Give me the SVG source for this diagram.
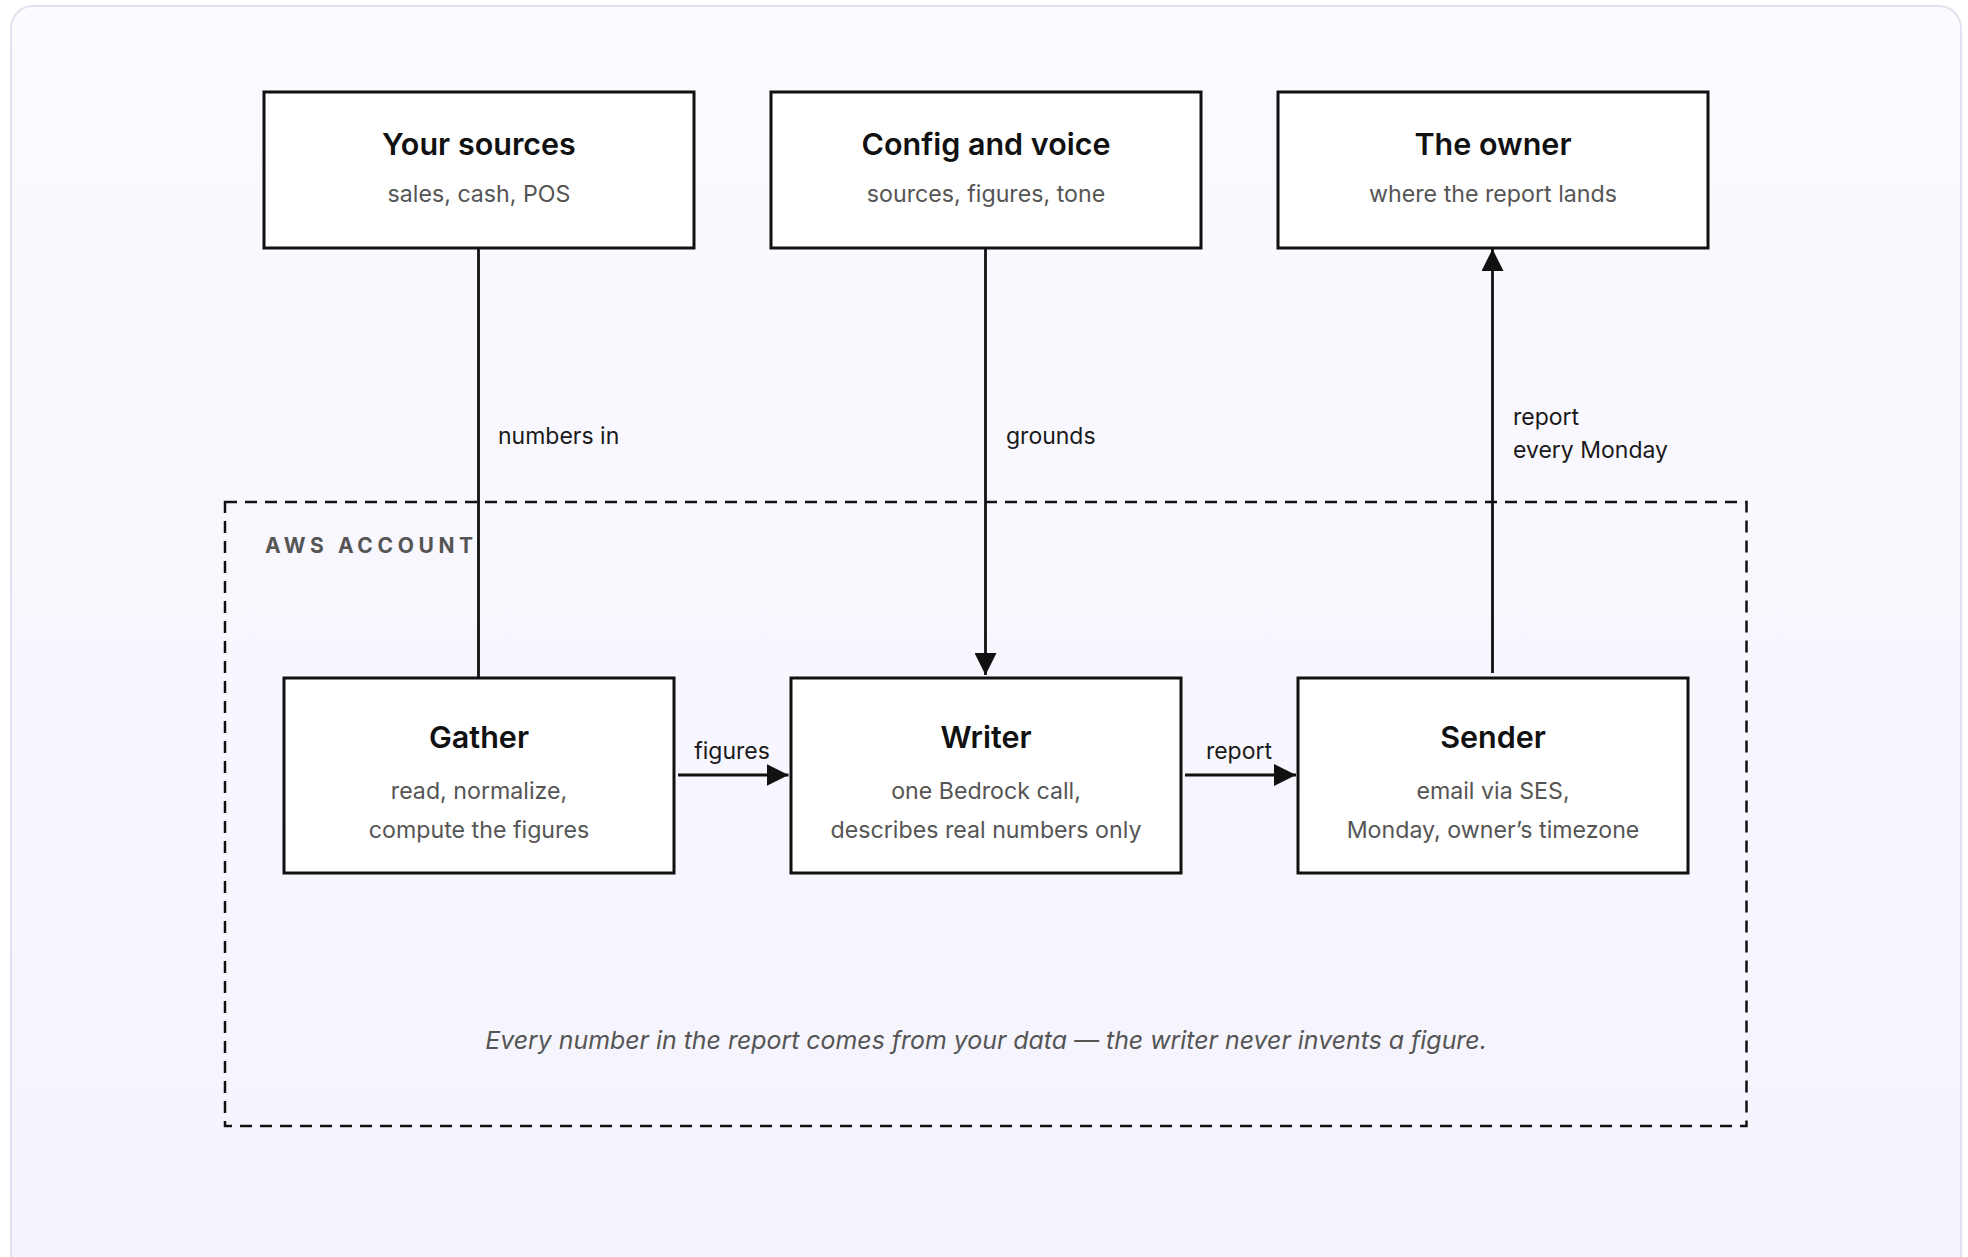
<svg xmlns="http://www.w3.org/2000/svg" width="1968" height="1257" viewBox="0 0 1968 1257">
  <style>
    .node rect { fill: #ffffff; stroke: #111111; stroke-width: 3; }
    .title { font-family: Inter, "Noto Sans", "DejaVu Sans", sans-serif; font-size: 30.5px; font-weight: 600; fill: #111111; text-anchor: middle; }
    .sub { font-family: Inter, "Noto Sans", "DejaVu Sans", sans-serif; font-size: 23.2px; font-weight: 400; fill: #555555; text-anchor: middle; }
    .edge { stroke: #111111; stroke-width: 2.8; fill: none; }
    .label { font-family: Inter, "Noto Sans", "DejaVu Sans", sans-serif; font-size: 23px; fill: #1a1a1a; }
    .zone { fill: none; stroke: #111111; stroke-width: 2.5; stroke-dasharray: 12 8; }
    .zone-label { font-family: Inter, "Noto Sans", "DejaVu Sans", sans-serif; font-size: 21px; font-weight: 700; letter-spacing: 4.6px; fill: #555555; }
    .note { font-family: Inter, "Noto Sans", "DejaVu Sans", sans-serif; font-size: 24.9px; font-style: italic; fill: #555555; text-anchor: middle; }
  </style>
  <defs>
    <linearGradient id="cardFill" x1="0" y1="0" x2="0" y2="1">
      <stop offset="0" stop-color="#fbfaff"/>
      <stop offset="1" stop-color="#f5f4fe"/>
    </linearGradient>
    <marker id="arrow" viewBox="0 0 22 22" refX="22" refY="11" markerWidth="22" markerHeight="22" markerUnits="userSpaceOnUse" orient="auto">
      <path d="M0,0 L22,11 L0,22 Z" fill="#111111"/>
    </marker>
  </defs>

  <!-- page and card -->
  <rect x="0" y="0" width="1968" height="1257" fill="#ffffff"/>
  <rect x="11" y="6" width="1950" height="1280" rx="22" ry="22" fill="url(#cardFill)" stroke="#e3e1ef" stroke-width="2"/>

  <!-- AWS account boundary -->
  <g id="aws-account">
    <rect class="zone" x="225" y="502" width="1521.5" height="624"/>
    <text class="zone-label" x="265" y="553">AWS ACCOUNT</text>
    <text class="note" x="986" y="1049">Every number in the report comes from your data — the writer never invents a figure.</text>
  </g>

  <!-- connectors -->
  <g id="connectors">
    <line class="edge" x1="478.5" y1="248" x2="478.5" y2="677"/>
    <line class="edge" x1="985.5" y1="248" x2="985.5" y2="675" marker-end="url(#arrow)"/>
    <line class="edge" x1="1492.5" y1="673" x2="1492.5" y2="249" marker-end="url(#arrow)"/>
    <line class="edge" x1="678" y1="775" x2="788.5" y2="775" marker-end="url(#arrow)"/>
    <line class="edge" x1="1185" y1="775" x2="1296" y2="775" marker-end="url(#arrow)"/>
    <text class="label" x="498" y="444">numbers in</text>
    <text class="label" x="1006" y="444">grounds</text>
    <text class="label" x="1513" y="425">report</text>
    <text class="label" x="1513" y="458">every Monday</text>
    <text class="label" x="732" y="759" text-anchor="middle">figures</text>
    <text class="label" x="1239" y="759" text-anchor="middle">report</text>
  </g>

  <!-- top row -->
  <g id="your-sources" class="node">
    <rect x="264" y="92" width="430" height="156"/>
    <text class="title" x="479" y="155">Your sources</text>
    <text class="sub" x="479" y="202">sales, cash, POS</text>
  </g>
  <g id="config-and-voice" class="node">
    <rect x="771" y="92" width="430" height="156"/>
    <text class="title" x="986" y="155">Config and voice</text>
    <text class="sub" x="986" y="202">sources, figures, tone</text>
  </g>
  <g id="the-owner" class="node">
    <rect x="1278" y="92" width="430" height="156"/>
    <text class="title" x="1493" y="155">The owner</text>
    <text class="sub" x="1493" y="202">where the report lands</text>
  </g>

  <!-- bottom row -->
  <g id="gather" class="node">
    <rect x="284" y="678" width="390" height="195"/>
    <text class="title" x="479" y="748">Gather</text>
    <text class="sub" x="479" y="799">read, normalize,</text>
    <text class="sub" x="479" y="838">compute the figures</text>
  </g>
  <g id="writer" class="node">
    <rect x="791" y="678" width="390" height="195"/>
    <text class="title" x="986" y="748">Writer</text>
    <text class="sub" x="986" y="799">one Bedrock call,</text>
    <text class="sub" x="986" y="838">describes real numbers only</text>
  </g>
  <g id="sender" class="node">
    <rect x="1298" y="678" width="390" height="195"/>
    <text class="title" x="1493" y="748">Sender</text>
    <text class="sub" x="1493" y="799">email via SES,</text>
    <text class="sub" x="1493" y="838">Monday, owner’s timezone</text>
  </g>
</svg>
